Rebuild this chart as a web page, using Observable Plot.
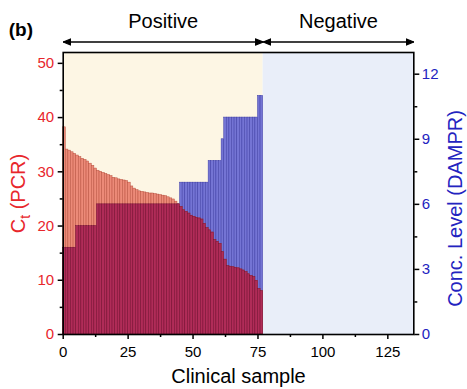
<!DOCTYPE html>
<html><head><meta charset="utf-8">
<script src="https://cdn.jsdelivr.net/npm/d3@7"></script>
<script src="https://cdn.jsdelivr.net/npm/@observablehq/plot@0.6"></script>
<style>html,body{margin:0;padding:0;background:#fff;} #chart{width:467px;height:389px;}</style>
</head><body><div id="chart"></div>
<script>
// Ct (PCR) for each positive clinical sample, sorted
const ctValues = [38.2,34.1,33.9,33.6,33.3,33.0,32.7,32.4,32.2,31.9,
  31.5,31.1,30.6,30.2,30.0,29.8,29.6,29.4,29.2,28.9,
  28.8,28.6,28.5,28.4,28.3,28.0,27.3,26.9,26.6,26.4,
  26.3,26.2,26.1,26.0,26.0,25.9,25.8,25.7,25.6,25.5,
  25.3,25.1,24.9,24.5,24.0,23.5,22.9,22.6,22.3,21.9,
  21.7,21.5,21.4,21.2,20.4,19.6,19.2,18.8,17.4,17.1,
  16.7,15.2,13.8,12.6,12.5,12.4,12.3,12.2,12.0,11.8,
  11.5,11.1,10.8,10.6,9.9,8.4,8.0];
// Concentration level (DAMPR) for the same samples
const concLevels = [4,4,4,4,4,5,5,5,5,5,
  5,5,5,6,6,6,6,6,6,6,
  6,6,6,6,6,6,6,6,6,6,
  6,6,6,6,6,6,6,6,6,6,
  6,6,6,6,6,7,7,7,7,7,
  7,7,7,7,7,7,8,8,8,8,
  8,9,10,10,10,10,10,10,10,10,
  10,10,10,10,10,11,11];
const regionNames = ["Positive", "Negative"];
const regionStart = [0, 77];
const regionEnd = [77, 135];
const regionFills = ["#fdf6e4", "#e9eef9"];
const ctTicks = [0, 10, 20, 30, 40, 50];
const ctMinorTicks = [5, 15, 25, 35, 45];
const concTicks = [0, 3, 6, 9, 12];
const concMinorTicks = [1.5, 4.5, 7.5, 10.5];
const sampleTicks = [0, 25, 50, 75, 100, 125];
const sampleMinorTicks = [12.5, 37.5, 62.5, 87.5, 112.5];
const ctMax = 52, concMax = 13, sampleMax = 135;
const k = ctMax / concMax;

const RED = "#e8262b", BLUE = "#2323c0";
const samples = ctValues.map((ct, i) => ({i, ct, conc: concLevels[i]}));
const regions = regionNames.map((name, j) => ({name, start: regionStart[j], end: regionEnd[j], fill: regionFills[j]}));

function filledArrow() {
  const ns = "http://www.w3.org/2000/svg";
  const m = document.createElementNS(ns, "marker");
  m.setAttribute("viewBox", "-10 -5 10 10");
  m.setAttribute("refX", "0"); m.setAttribute("refY", "0");
  m.setAttribute("markerUnits", "userSpaceOnUse");
  m.setAttribute("markerWidth", "8"); m.setAttribute("markerHeight", "8");
  m.setAttribute("orient", "auto-start-reverse");
  const p = document.createElementNS(ns, "path");
  p.setAttribute("d", "M-10,-4L0,0L-10,4Z");
  p.setAttribute("fill", "black");
  m.appendChild(p);
  return m;
}

function build(marker) {
  return Plot.plot({
    width: 467, height: 389,
    marginLeft: 62.7, marginRight: 53.7, marginTop: 52, marginBottom: 55,
    x: {domain: [0, sampleMax]},
    y: {domain: [0, ctMax]},
    color: {type: "identity"},
    style: {fontFamily: "'Liberation Sans', Arial, sans-serif", fontSize: "15px", background: "white", overflow: "visible"},
    marks: [
      Plot.rect(regions, {x1: "start", x2: "end", y1: 0, y2: ctMax, fill: "fill"}),
      Plot.rect(samples, {x1: "i", x2: d => d.i + 1, y1: 0, y2: d => d.conc * k, fill: "#7474d4", stroke: "#3c3ca6", strokeWidth: 0.5}),
      Plot.rect(samples, {x1: "i", x2: d => d.i + 1, y1: 0, y2: "ct", fill: "#ec8a78", stroke: "#b8503f", strokeWidth: 0.5}),
      Plot.rect(samples, {x1: "i", x2: d => d.i + 1, y1: 0, y2: d => Math.min(d.ct, d.conc * k), fill: "#b02c58", stroke: "#751236", strokeWidth: 0.5}),
      Plot.frame({stroke: "black", strokeWidth: 1.6}),
      Plot.axisY({anchor: "left", ticks: ctTicks, tickSize: 5, tickPadding: 4, stroke: "black", strokeWidth: 1.5, fill: RED, fontSize: 15, label: null}),
      Plot.axisY({anchor: "left", ticks: ctMinorTicks, tickSize: 3, stroke: "black", strokeWidth: 1.5, fill: "none", label: null}),
      Plot.axisY({anchor: "right", ticks: concTicks.map(v => v * k), tickFormat: v => String(v / k), tickSize: 5, tickPadding: 3, stroke: "black", strokeWidth: 1.5, fill: BLUE, fontSize: 15, label: null}),
      Plot.axisY({anchor: "right", ticks: concMinorTicks.map(v => v * k), tickSize: 3, stroke: "black", strokeWidth: 1.5, fill: "none", label: null}),
      Plot.axisX({anchor: "bottom", ticks: sampleTicks, tickSize: 5, tickPadding: 7, stroke: "black", strokeWidth: 1.5, fill: "black", fontSize: 15, label: null}),
      Plot.axisX({anchor: "bottom", ticks: sampleMinorTicks, tickSize: 3, stroke: "black", strokeWidth: 1.5, fill: "none", label: null}),
      Plot.link(regions, {x1: "start", x2: "end", y1: ctMax, y2: ctMax, dy: -10.5, stroke: "black", strokeWidth: 1.6, markerStart: marker, markerEnd: marker}),
      Plot.text(regions, {x: d => (d.start + d.end) / 2, y: ctMax, dy: -31, text: "name", fontSize: 20, fill: "black"}),
      Plot.text(["(b)"], {frameAnchor: "top-left", dx: -54.5, dy: -30, textAnchor: "start", fontWeight: "bold", fontSize: 19, fill: "black"}),
      Plot.text(["Clinical sample"], {frameAnchor: "bottom", dy: 48, fontSize: 20, fill: "black"}),
      Plot.text(["Ct (PCR)"], {frameAnchor: "left", dx: -45, rotate: -90, textAnchor: "middle", fontSize: 20, fill: RED}),
      Plot.text(["Conc. Level (DAMPR)"], {frameAnchor: "right", dx: 42, dy: 15, rotate: -90, textAnchor: "middle", fontSize: 20, fill: BLUE})
    ]
  });
}

let chart;
try { chart = build(filledArrow); } catch (e) { chart = build("arrow"); }
document.getElementById("chart").appendChild(chart);

// subscript t in "Ct (PCR)"
d3.select(chart).selectAll("text").filter(function () { return this.textContent === "Ct (PCR)"; })
  .each(function () {
    const t = d3.select(this);
    t.text(null);
    t.append("tspan").text("C");
    t.append("tspan").attr("dy", 5).attr("font-size", 14).text("t");
    t.append("tspan").attr("dy", -5).text(" (PCR)");
  });
</script>
</body></html>
